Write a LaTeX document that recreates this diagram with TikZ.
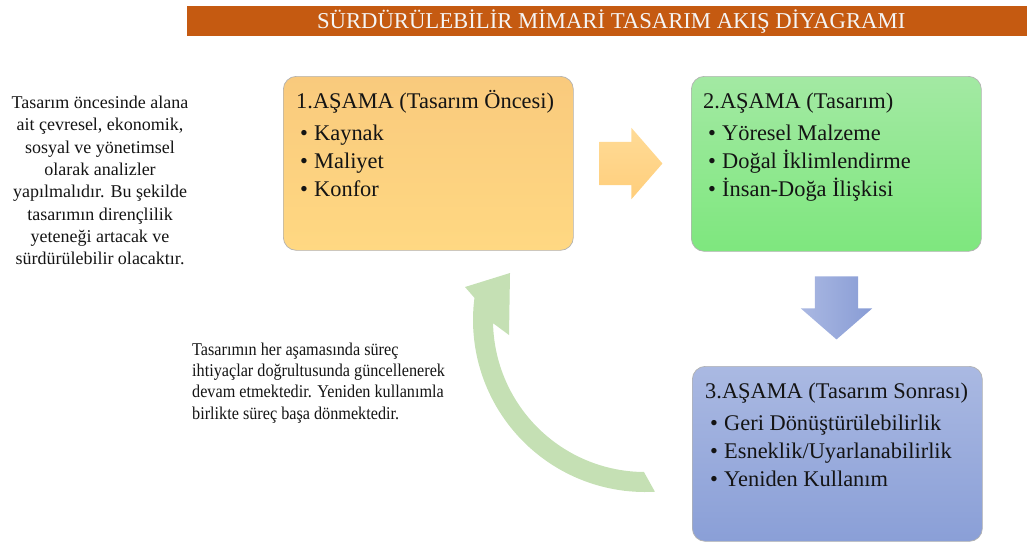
\documentclass[tikz,border=0pt]{standalone}
\usepackage{fontspec}
\setmainfont{Liberation Serif}
\newfontfamily\narrowserif[FakeStretch=0.9]{Liberation Serif}
\usetikzlibrary{shapes.arrows}
\definecolor{barcol}{HTML}{C55A11}
\definecolor{txtcol}{HTML}{141414}
\definecolor{orgtop}{HTML}{F9CA7D}
\definecolor{orgbot}{HTML}{FFD882}
\definecolor{grntop}{HTML}{A3E9A3}
\definecolor{grnbot}{HTML}{7EE77E}
\definecolor{blutop}{HTML}{AAB9E2}
\definecolor{blubot}{HTML}{8A9FD7}
\definecolor{arrorgtop}{HTML}{FFDB97}
\definecolor{arrorgbot}{HTML}{FFCE7B}
\definecolor{arrblutop}{HTML}{AAB8E2}
\definecolor{arrblubot}{HTML}{889CD5}
\definecolor{cyclegreen}{HTML}{C5E0B4}
\tikzset{
  stagebox/.style={rounded corners=13pt, draw=black!30, line width=0.7pt,
    minimum width=290pt, minimum height=174pt, anchor=north west, inner sep=0pt},
  boxline/.style={anchor=base west, inner sep=0pt, text=txtcol,
    font=\fontsize{22.4}{27}\selectfont},
  blockarrow/.style={single arrow, single arrow head extend=14pt,
    single arrow tip angle=98, minimum height=63pt,
    inner xsep=0pt, inner ysep=21.5pt, draw=none},
  sidetext/.style={inner sep=0pt, text=txtcol},
}
\newcommand{\bitem}[1]{\makebox[14pt][l]{•}#1}
\begin{document}
\begin{tikzpicture}[x=1pt,y=-1pt]
\useasboundingbox (0,0) rectangle (1027,542);

% title bar
\node[fill=barcol, minimum width=840pt, minimum height=30pt, anchor=north west,
  inner sep=0pt, text=white!96!black, font=\fontsize{22.7}{26}\selectfont]
  (bar) at (187,6) {\hspace*{8pt}SÜRDÜRÜLEBİLİR MİMARİ TASARIM AKIŞ DİYAGRAMI};

% stage boxes
\node[stagebox, top color=orgtop, bottom color=orgbot] (b1) at (283,76) {};
\node[stagebox, top color=grntop, bottom color=grnbot, minimum height=175pt] (b2) at (691,76) {};
\node[stagebox, top color=blutop, bottom color=blubot, minimum height=175pt] (b3) at (692,366) {};

% box texts
\node[boxline] (b1t) at ([xshift=13pt,yshift=-32pt]b1.north west) {1.AŞAMA (Tasarım Öncesi)};
\node[boxline] (b1a) at ([xshift=17pt,yshift=-64pt]b1.north west) {\bitem{Kaynak}};
\node[boxline] (b1b) at ([xshift=17pt,yshift=-92pt]b1.north west) {\bitem{Maliyet}};
\node[boxline] (b1c) at ([xshift=17pt,yshift=-120pt]b1.north west) {\bitem{Konfor}};

\node[boxline] (b2t) at ([xshift=12pt,yshift=-32pt]b2.north west) {2.AŞAMA (Tasarım)};
\node[boxline] (b2a) at ([xshift=17pt,yshift=-64pt]b2.north west) {\bitem{Yöresel Malzeme}};
\node[boxline] (b2b) at ([xshift=17pt,yshift=-92pt]b2.north west) {\bitem{Doğal İklimlendirme}};
\node[boxline] (b2c) at ([xshift=17pt,yshift=-120pt]b2.north west) {\bitem{İnsan-Doğa İlişkisi}};

\node[boxline] (b3t) at ([xshift=13pt,yshift=-32pt]b3.north west) {3.AŞAMA (Tasarım Sonrası)};
\node[boxline] (b3a) at ([xshift=18pt,yshift=-64pt]b3.north west) {\bitem{Geri Dönüştürülebilirlik}};
\node[boxline] (b3b) at ([xshift=18pt,yshift=-92pt]b3.north west) {\bitem{Esneklik/Uyarlanabilirlik}};
\node[boxline] (b3c) at ([xshift=18pt,yshift=-120pt]b3.north west) {\bitem{Yeniden Kullanım}};

% block arrows
\node[blockarrow, top color=arrorgtop, bottom color=arrorgbot] (a12) at (621.5,163.5) {};
\node[blockarrow, rotate=-90, left color=arrblutop, right color=arrblubot] (a23) at (836.5,298.5) {};

% circular return arrow
\fill[cyclegreen]
  plot[domain=86.7:187.4, samples=60] ({645+172*cos(\x)},{320+172*sin(\x)})
  -- (465,287) -- (510,273) -- (509,335)
  -- plot[domain=178.8:90.4, samples=60] ({645+152*cos(\x)},{320+152*sin(\x)})
  -- cycle;

% side texts
\node[sidetext, anchor=north, align=center, font=\fontsize{18}{22.3}\selectfont]
  (lefttext) at (100,96) {Tasarım öncesinde alana\\ait çevresel, ekonomik,\\sosyal ve yönetimsel\\olarak analizler\\yapılmalıdır. Bu şekilde\\tasarımın dirençlilik\\yeteneği artacak ve\\sürdürülebilir olacaktır.};
\node[sidetext, anchor=north west, align=left, font=\narrowserif\fontsize{18}{21.1}\selectfont]
  (cycletext) at (192,343) {Tasarımın her aşamasında süreç\\ihtiyaçlar doğrultusunda güncellenerek\\devam etmektedir. Yeniden kullanımla\\birlikte süreç başa dönmektedir.};
\end{tikzpicture}
\end{document}
